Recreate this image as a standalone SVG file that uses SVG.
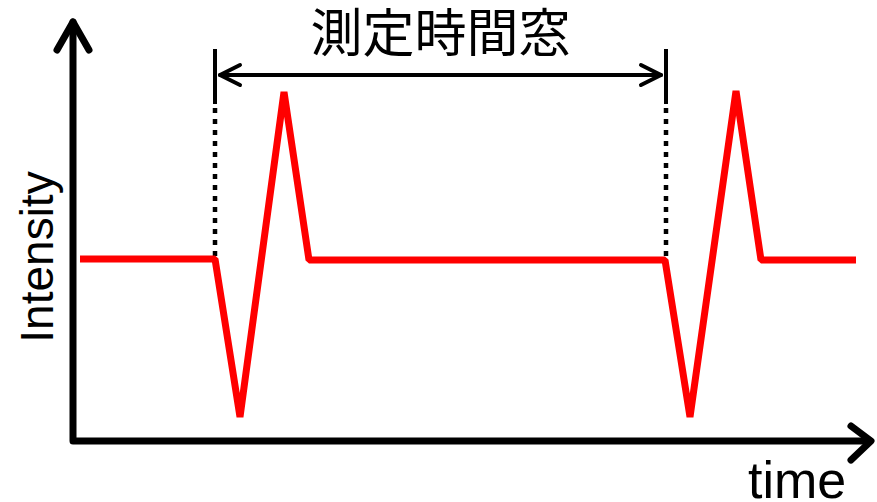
<svg xmlns="http://www.w3.org/2000/svg" width="877" height="502" viewBox="0 0 877 502">
<style>
.axis{fill:none;stroke:#000;stroke-width:7;stroke-linecap:round;stroke-linejoin:round}
.dim{fill:none;stroke:#000;stroke-width:4;stroke-linecap:round;stroke-linejoin:round}
.tick{fill:none;stroke:#000;stroke-width:4}
.dot{fill:none;stroke:#000;stroke-width:4.5;stroke-dasharray:5 6}
.wave{fill:none;stroke:#ff0000;stroke-width:7;stroke-linejoin:bevel}
.lbl{font-family:"Liberation Sans",Arial,sans-serif;fill:#000}
.cjk{font-family:"Noto Sans CJK JP","Noto Sans CJK SC",sans-serif;fill:#000}
</style>
<rect width="877" height="502" fill="#fff"/>
<g id="axes">
<polyline class="axis" points="73,22 73,441 870,441"/>
<polyline class="axis" points="57,50 73,22 89,50"/>
<polyline class="axis" points="851,426 871,441 851,460"/>
</g>
<g id="window">
<line class="tick" x1="215" y1="49" x2="215" y2="104"/>
<line class="tick" x1="666" y1="49" x2="666" y2="104"/>
<line class="dot" x1="215" y1="108" x2="215" y2="256"/>
<line class="dot" x1="666" y1="108" x2="666" y2="256"/>
<line class="dim" x1="220" y1="75" x2="661" y2="75"/>
<polyline class="dim" points="240,65 220,75 240,85"/>
<polyline class="dim" points="641,65 661,75 641,85"/>
</g>
<g id="waveform">
<polyline class="wave" points="80,259 215,259 240,417 284,92 309,260 665,260 690,417 736,91 761,260 856,260"/>
</g>
<g id="labels">
<text class="cjk" x="440.5" y="52" font-size="52" text-anchor="middle">測定時間窓</text>
<text class="lbl" x="0" y="0" font-size="46" text-anchor="middle" transform="translate(53,257) rotate(-90)">Intensity</text>
<text class="lbl" x="748" y="498" font-size="52">time</text>
</g>
</svg>
